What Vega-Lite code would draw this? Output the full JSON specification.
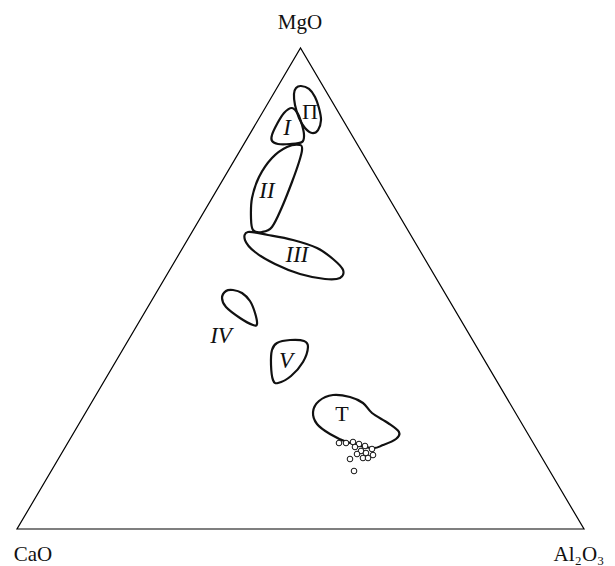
{
  "$schema": "https://vega.github.io/schema/vega-lite/v6.json",
  "width": 615,
  "height": 566,
  "padding": 0,
  "autosize": {"type": "none"},
  "background": "white",
  "config": {"view": {"stroke": null}},
  "datasets": {
    "triangle": [
      {"i": 0, "x": 0, "y": 0},
      {"i": 1, "x": 100, "y": 0},
      {"i": 2, "x": 50, "y": 100}
    ],
    "regions": [
      {"region": "Pi", "i": 0, "x": 50.09, "y": 92.10},
      {"region": "Pi", "i": 1, "x": 51.50, "y": 91.48},
      {"region": "Pi", "i": 2, "x": 52.56, "y": 89.81},
      {"region": "Pi", "i": 3, "x": 53.26, "y": 87.53},
      {"region": "Pi", "i": 4, "x": 53.62, "y": 85.03},
      {"region": "Pi", "i": 5, "x": 53.09, "y": 82.95},
      {"region": "Pi", "i": 6, "x": 52.03, "y": 82.33},
      {"region": "Pi", "i": 7, "x": 50.79, "y": 83.37},
      {"region": "Pi", "i": 8, "x": 49.74, "y": 85.45},
      {"region": "Pi", "i": 9, "x": 49.03, "y": 88.15},
      {"region": "Pi", "i": 10, "x": 48.85, "y": 90.44},
      {"region": "Pi", "i": 11, "x": 49.21, "y": 91.68},

      {"region": "I", "i": 0, "x": 48.50, "y": 87.53},
      {"region": "I", "i": 1, "x": 49.56, "y": 86.28},
      {"region": "I", "i": 2, "x": 50.27, "y": 83.99},
      {"region": "I", "i": 3, "x": 50.62, "y": 81.91},
      {"region": "I", "i": 4, "x": 50.27, "y": 80.46},
      {"region": "I", "i": 5, "x": 48.15, "y": 80.04},
      {"region": "I", "i": 6, "x": 46.03, "y": 80.04},
      {"region": "I", "i": 7, "x": 44.97, "y": 80.67},
      {"region": "I", "i": 8, "x": 44.97, "y": 81.91},
      {"region": "I", "i": 9, "x": 45.86, "y": 84.20},
      {"region": "I", "i": 10, "x": 47.09, "y": 86.49},

      {"region": "II", "i": 0, "x": 49.91, "y": 79.83},
      {"region": "II", "i": 1, "x": 50.27, "y": 78.79},
      {"region": "II", "i": 2, "x": 49.74, "y": 76.30},
      {"region": "II", "i": 3, "x": 48.50, "y": 72.14},
      {"region": "II", "i": 4, "x": 46.74, "y": 66.94},
      {"region": "II", "i": 5, "x": 44.97, "y": 62.79},
      {"region": "II", "i": 6, "x": 43.21, "y": 61.75},
      {"region": "II", "i": 7, "x": 41.62, "y": 62.16},
      {"region": "II", "i": 8, "x": 41.27, "y": 64.66},
      {"region": "II", "i": 9, "x": 41.45, "y": 68.81},
      {"region": "II", "i": 10, "x": 42.68, "y": 73.18},
      {"region": "II", "i": 11, "x": 44.97, "y": 77.13},
      {"region": "II", "i": 12, "x": 47.62, "y": 79.42},

      {"region": "III", "i": 0, "x": 40.74, "y": 61.75},
      {"region": "III", "i": 1, "x": 44.27, "y": 61.12},
      {"region": "III", "i": 2, "x": 48.68, "y": 60.08},
      {"region": "III", "i": 3, "x": 52.91, "y": 58.42},
      {"region": "III", "i": 4, "x": 55.73, "y": 56.13},
      {"region": "III", "i": 5, "x": 57.50, "y": 53.85},
      {"region": "III", "i": 6, "x": 56.97, "y": 52.18},
      {"region": "III", "i": 7, "x": 54.32, "y": 51.98},
      {"region": "III", "i": 8, "x": 49.91, "y": 53.01},
      {"region": "III", "i": 9, "x": 45.50, "y": 55.09},
      {"region": "III", "i": 10, "x": 41.98, "y": 57.59},
      {"region": "III", "i": 11, "x": 40.21, "y": 60.08},

      {"region": "IV", "i": 0, "x": 38.10, "y": 49.69},
      {"region": "IV", "i": 1, "x": 39.68, "y": 49.06},
      {"region": "IV", "i": 2, "x": 41.09, "y": 47.40},
      {"region": "IV", "i": 3, "x": 41.98, "y": 44.91},
      {"region": "IV", "i": 4, "x": 42.33, "y": 42.62},
      {"region": "IV", "i": 5, "x": 41.62, "y": 42.41},
      {"region": "IV", "i": 6, "x": 39.33, "y": 43.87},
      {"region": "IV", "i": 7, "x": 36.86, "y": 46.15},
      {"region": "IV", "i": 8, "x": 36.16, "y": 48.02},
      {"region": "IV", "i": 9, "x": 36.86, "y": 49.48},

      {"region": "V", "i": 0, "x": 45.86, "y": 38.67},
      {"region": "V", "i": 1, "x": 48.15, "y": 39.29},
      {"region": "V", "i": 2, "x": 50.62, "y": 39.09},
      {"region": "V", "i": 3, "x": 51.32, "y": 37.84},
      {"region": "V", "i": 4, "x": 50.44, "y": 34.72},
      {"region": "V", "i": 5, "x": 48.33, "y": 31.81},
      {"region": "V", "i": 6, "x": 46.03, "y": 30.35},
      {"region": "V", "i": 7, "x": 45.15, "y": 30.98},
      {"region": "V", "i": 8, "x": 44.80, "y": 34.10},
      {"region": "V", "i": 9, "x": 44.97, "y": 37.21},

      {"region": "T", "i": 0, "x": 52.21, "y": 24.32},
      {"region": "T", "i": 1, "x": 53.26, "y": 26.61},
      {"region": "T", "i": 2, "x": 55.73, "y": 27.86},
      {"region": "T", "i": 3, "x": 58.73, "y": 27.44},
      {"region": "T", "i": 4, "x": 61.02, "y": 26.20},
      {"region": "T", "i": 5, "x": 62.61, "y": 24.12},
      {"region": "T", "i": 6, "x": 65.43, "y": 22.04},
      {"region": "T", "i": 7, "x": 67.37, "y": 20.17},
      {"region": "T", "i": 8, "x": 66.84, "y": 18.71},
      {"region": "T", "i": 9, "x": 64.55, "y": 17.46},
      {"region": "T", "i": 10, "x": 62.61, "y": 16.84},
      {"region": "T", "i": 11, "x": 58.20, "y": 18.09},
      {"region": "T", "i": 12, "x": 55.20, "y": 19.75},
      {"region": "T", "i": 13, "x": 52.91, "y": 21.83}
    ],
    "samples": [
      {"x": 56.79, "y": 17.88},
      {"x": 58.03, "y": 17.88},
      {"x": 59.26, "y": 18.09},
      {"x": 60.32, "y": 17.67},
      {"x": 61.38, "y": 17.26},
      {"x": 62.61, "y": 16.63},
      {"x": 59.61, "y": 17.05},
      {"x": 60.67, "y": 16.22},
      {"x": 61.55, "y": 15.80},
      {"x": 62.79, "y": 15.38},
      {"x": 59.97, "y": 15.59},
      {"x": 61.02, "y": 14.76},
      {"x": 61.91, "y": 14.76},
      {"x": 58.73, "y": 14.55},
      {"x": 59.44, "y": 12.06}
    ],
    "numerals": [
      {"label": "I", "x": 47.62, "y": 83.37},
      {"label": "II", "x": 44.09, "y": 70.27},
      {"label": "III", "x": 49.38, "y": 56.96},
      {"label": "IV", "x": 35.98, "y": 40.12},
      {"label": "V", "x": 47.44, "y": 34.93}
    ],
    "names": [
      {"label": "Π", "x": 51.68, "y": 86.69},
      {"label": "T", "x": 57.32, "y": 23.91}
    ],
    "oxides": [
      {"label": "MgO", "x": 49.91, "y": 105.2},
      {"label": "CaO", "x": 2.82, "y": -5.34},
      {"label": "Al₂O₃", "x": 99.12, "y": -5.41}
    ]
  },
  "layer": [
    {
      "data": {"name": "triangle"},
      "mark": {"type": "line", "interpolate": "linear-closed", "stroke": "black", "strokeWidth": 1.2},
      "encoding": {
        "x": {"field": "x", "type": "quantitative", "scale": {"domain": [-3.0, 105.47], "nice": false, "zero": false}, "axis": null},
        "y": {"field": "y", "type": "quantitative", "scale": {"domain": [-7.69, 109.98], "nice": false, "zero": false}, "axis": null},
        "order": {"field": "i", "type": "quantitative"}
      }
    },
    {
      "data": {"name": "regions"},
      "mark": {"type": "line", "interpolate": "cardinal-closed", "stroke": "#111", "strokeWidth": 2.2},
      "encoding": {
        "x": {"field": "x", "type": "quantitative"},
        "y": {"field": "y", "type": "quantitative"},
        "detail": {"field": "region", "type": "nominal"},
        "order": {"field": "i", "type": "quantitative"}
      }
    },
    {
      "data": {"name": "samples"},
      "mark": {"type": "point", "shape": "circle", "filled": true, "fill": "white", "stroke": "#111", "strokeWidth": 1, "size": 32, "opacity": 1},
      "encoding": {
        "x": {"field": "x", "type": "quantitative"},
        "y": {"field": "y", "type": "quantitative"}
      }
    },
    {
      "data": {"name": "numerals"},
      "mark": {"type": "text", "font": "Liberation Serif", "fontStyle": "italic", "fontSize": 23, "align": "center", "baseline": "middle", "color": "#111"},
      "encoding": {
        "x": {"field": "x", "type": "quantitative"},
        "y": {"field": "y", "type": "quantitative"},
        "text": {"field": "label", "type": "nominal"}
      }
    },
    {
      "data": {"name": "names"},
      "mark": {"type": "text", "font": "Liberation Serif", "fontSize": 22, "align": "center", "baseline": "middle", "color": "#111"},
      "encoding": {
        "x": {"field": "x", "type": "quantitative"},
        "y": {"field": "y", "type": "quantitative"},
        "text": {"field": "label", "type": "nominal"}
      }
    },
    {
      "data": {"name": "oxides"},
      "mark": {"type": "text", "font": "Liberation Serif", "fontSize": 21, "align": "center", "baseline": "middle", "color": "#111"},
      "encoding": {
        "x": {"field": "x", "type": "quantitative"},
        "y": {"field": "y", "type": "quantitative"},
        "text": {"field": "label", "type": "nominal"}
      }
    }
  ]
}
